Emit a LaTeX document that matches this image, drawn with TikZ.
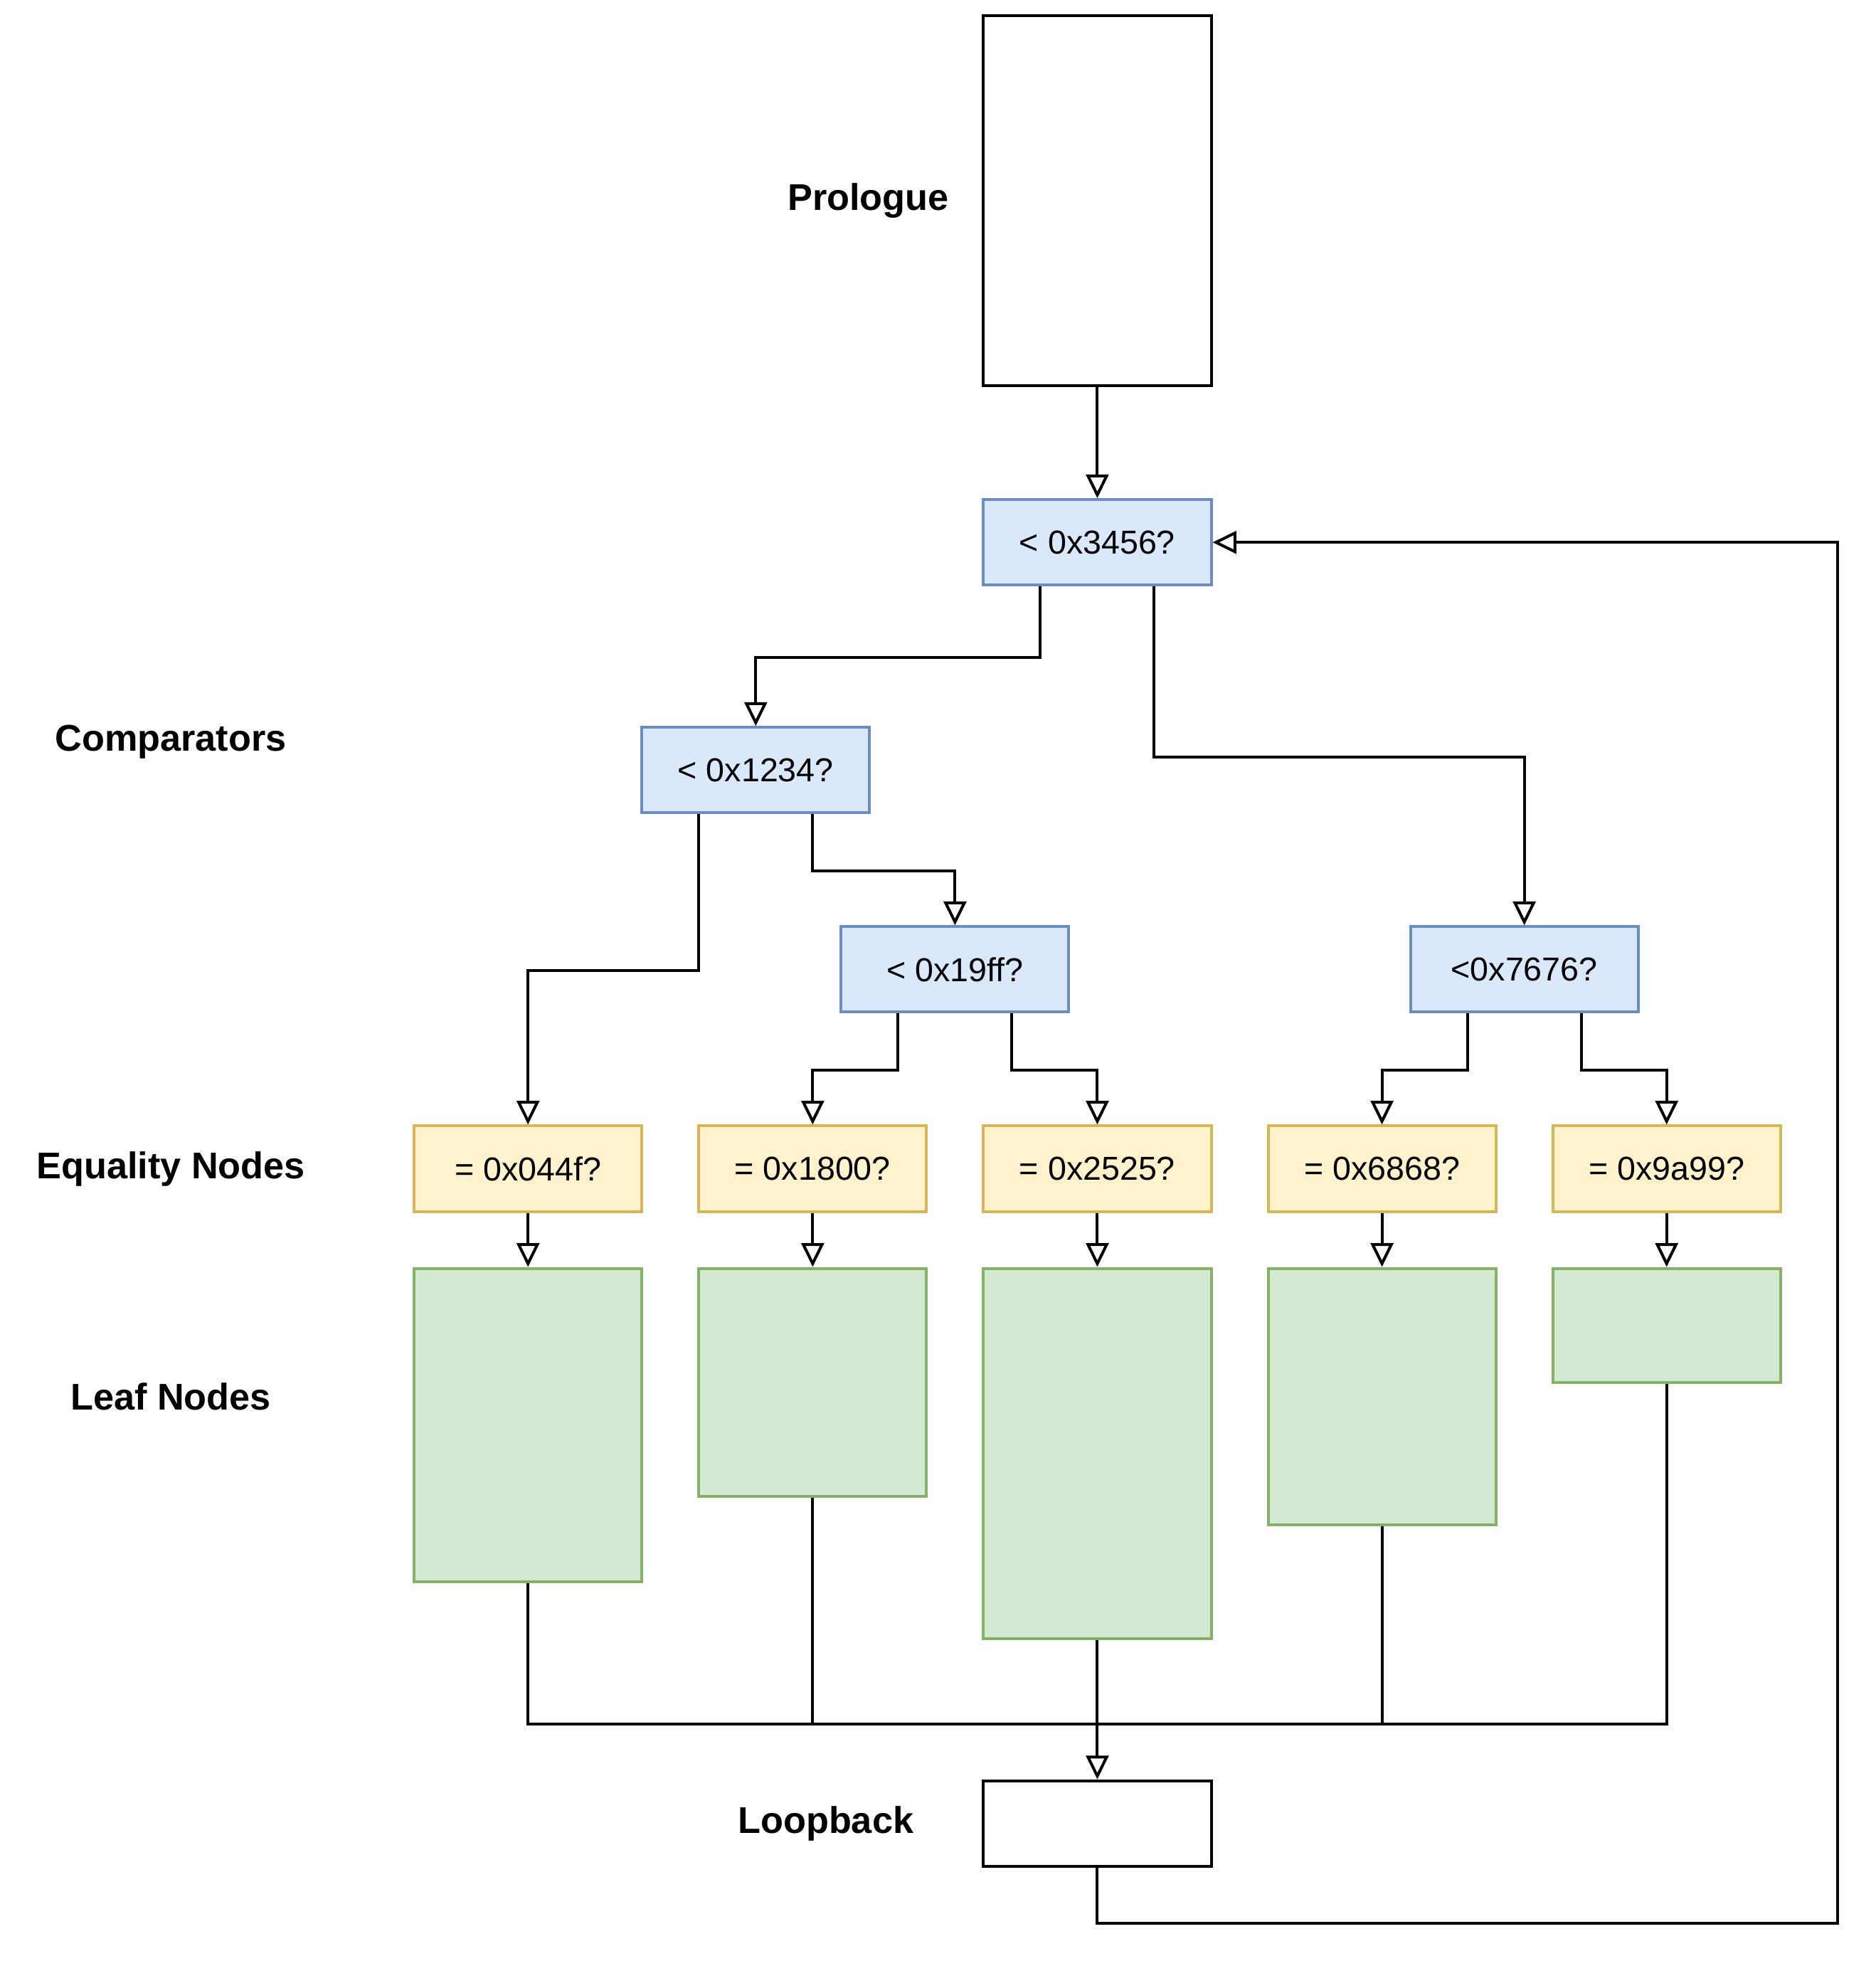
\documentclass[tikz,border=0pt]{standalone}
\usepackage{fontspec}
\setmainfont{Liberation Sans}
\usetikzlibrary{arrows.meta,calc}
\definecolor{cmpfill}{HTML}{DAE8FC}
\definecolor{cmpline}{HTML}{6C8EBF}
\definecolor{eqfill}{HTML}{FFF2CC}
\definecolor{eqline}{HTML}{D6B656}
\definecolor{leaffill}{HTML}{D5E8D4}
\definecolor{leafline}{HTML}{82B366}
\tikzset{
  basebox/.style={rectangle, inner sep=0pt, minimum width=182pt, minimum height=68.25pt,
    line width=2.275pt, font=\fontsize{26.5}{31}\selectfont},
  plainbox/.style={basebox, draw=black, fill=white},
  cmpbox/.style={basebox, draw=cmpline, fill=cmpfill},
  eqbox/.style={basebox, draw=eqline, fill=eqfill},
  leafbox/.style={basebox, draw=leafline, fill=leaffill},
  rowlabel/.style={font=\fontsize{29.7}{34}\selectfont\bfseries, inner sep=0pt},
  arr/.style={draw=black, line width=2.275pt, line join=miter,
    -{Triangle[length=19pt,width=18pt,fill=white]}},
  link/.style={draw=black, line width=2.275pt, line join=miter}
}
\begin{document}
\begin{tikzpicture}[x=2.275pt,y=-2.275pt]
\useasboundingbox (-0.5,-0.5) rectangle (658.4,688.3);

% row labels
\node[rowlabel] (lpro) at (304.5,70) {Prologue};
\node[rowlabel] (lcmp) at (59.5,260) {Comparators};
\node[rowlabel] (leq) at (59.5,410) {Equality Nodes};
\node[rowlabel] (lleaf) at (59.5,490) {Leaf Nodes};
\node[rowlabel] (lloop) at (289.6,640) {Loopback};

% prologue
\node[plainbox, minimum height=295.75pt] (pro) at (385,70) {};

% comparators
\node[cmpbox] (c0) at (385,190) {< 0x3456?};
\node[cmpbox] (c1) at (265,270) {< 0x1234?};
\node[cmpbox] (c2) at (335,340) {< 0x19ff?};
\node[cmpbox] (c3) at (535,340) {<0x7676?};

% equality nodes
\node[eqbox] (e1) at (185,410) {= 0x044f?};
\node[eqbox] (e2) at (285,410) {= 0x1800?};
\node[eqbox] (e3) at (385,410) {= 0x2525?};
\node[eqbox] (e4) at (485,410) {= 0x6868?};
\node[eqbox] (e5) at (585,410) {= 0x9a99?};

% leaf nodes
\node[leafbox, minimum height=250.25pt] (l1) at (185,500) {};
\node[leafbox, minimum height=182pt] (l2) at (285,485) {};
\node[leafbox, minimum height=295.75pt] (l3) at (385,510) {};
\node[leafbox, minimum height=204.75pt] (l4) at (485,490) {};
\node[leafbox, minimum height=91pt] (l5) at (585,465) {};

% loopback
\node[plainbox] (loop) at (385,640) {};

\coordinate (bus) at (385,605);
\coordinate (rt) at (645,675);

% connectors
\draw[arr] (pro.south) -- (c0.north);
\draw[arr] ($(c0.south)+(-20,0)$) -- ++(0,25) -| (c1.north);
\draw[arr] ($(c0.south)+(20,0)$) -- ++(0,60) -| (c3.north);
\draw[arr] ($(c1.south)+(-20,0)$) -- ++(0,55) -| (e1.north);
\draw[arr] ($(c1.south)+(20,0)$) -- ++(0,20) -| (c2.north);
\draw[arr] ($(c2.south)+(-20,0)$) -- ++(0,20) -| (e2.north);
\draw[arr] ($(c2.south)+(20,0)$) -- ++(0,20) -| (e3.north);
\draw[arr] ($(c3.south)+(-20,0)$) -- ++(0,20) -| (e4.north);
\draw[arr] ($(c3.south)+(20,0)$) -- ++(0,20) -| (e5.north);

\foreach \i in {1,...,5} {
  \draw[arr] (e\i.south) -- (l\i.north);
}

\draw[link] (l1.south) |- (bus);
\draw[link] (l2.south) |- (bus);
\draw[link] (l4.south) |- (bus);
\draw[link] (l5.south) |- (bus);
\draw[arr] (l3.south) -- (loop.north);

\draw[arr] (loop.south) |- (rt) |- (c0.east);
\end{tikzpicture}
\end{document}
